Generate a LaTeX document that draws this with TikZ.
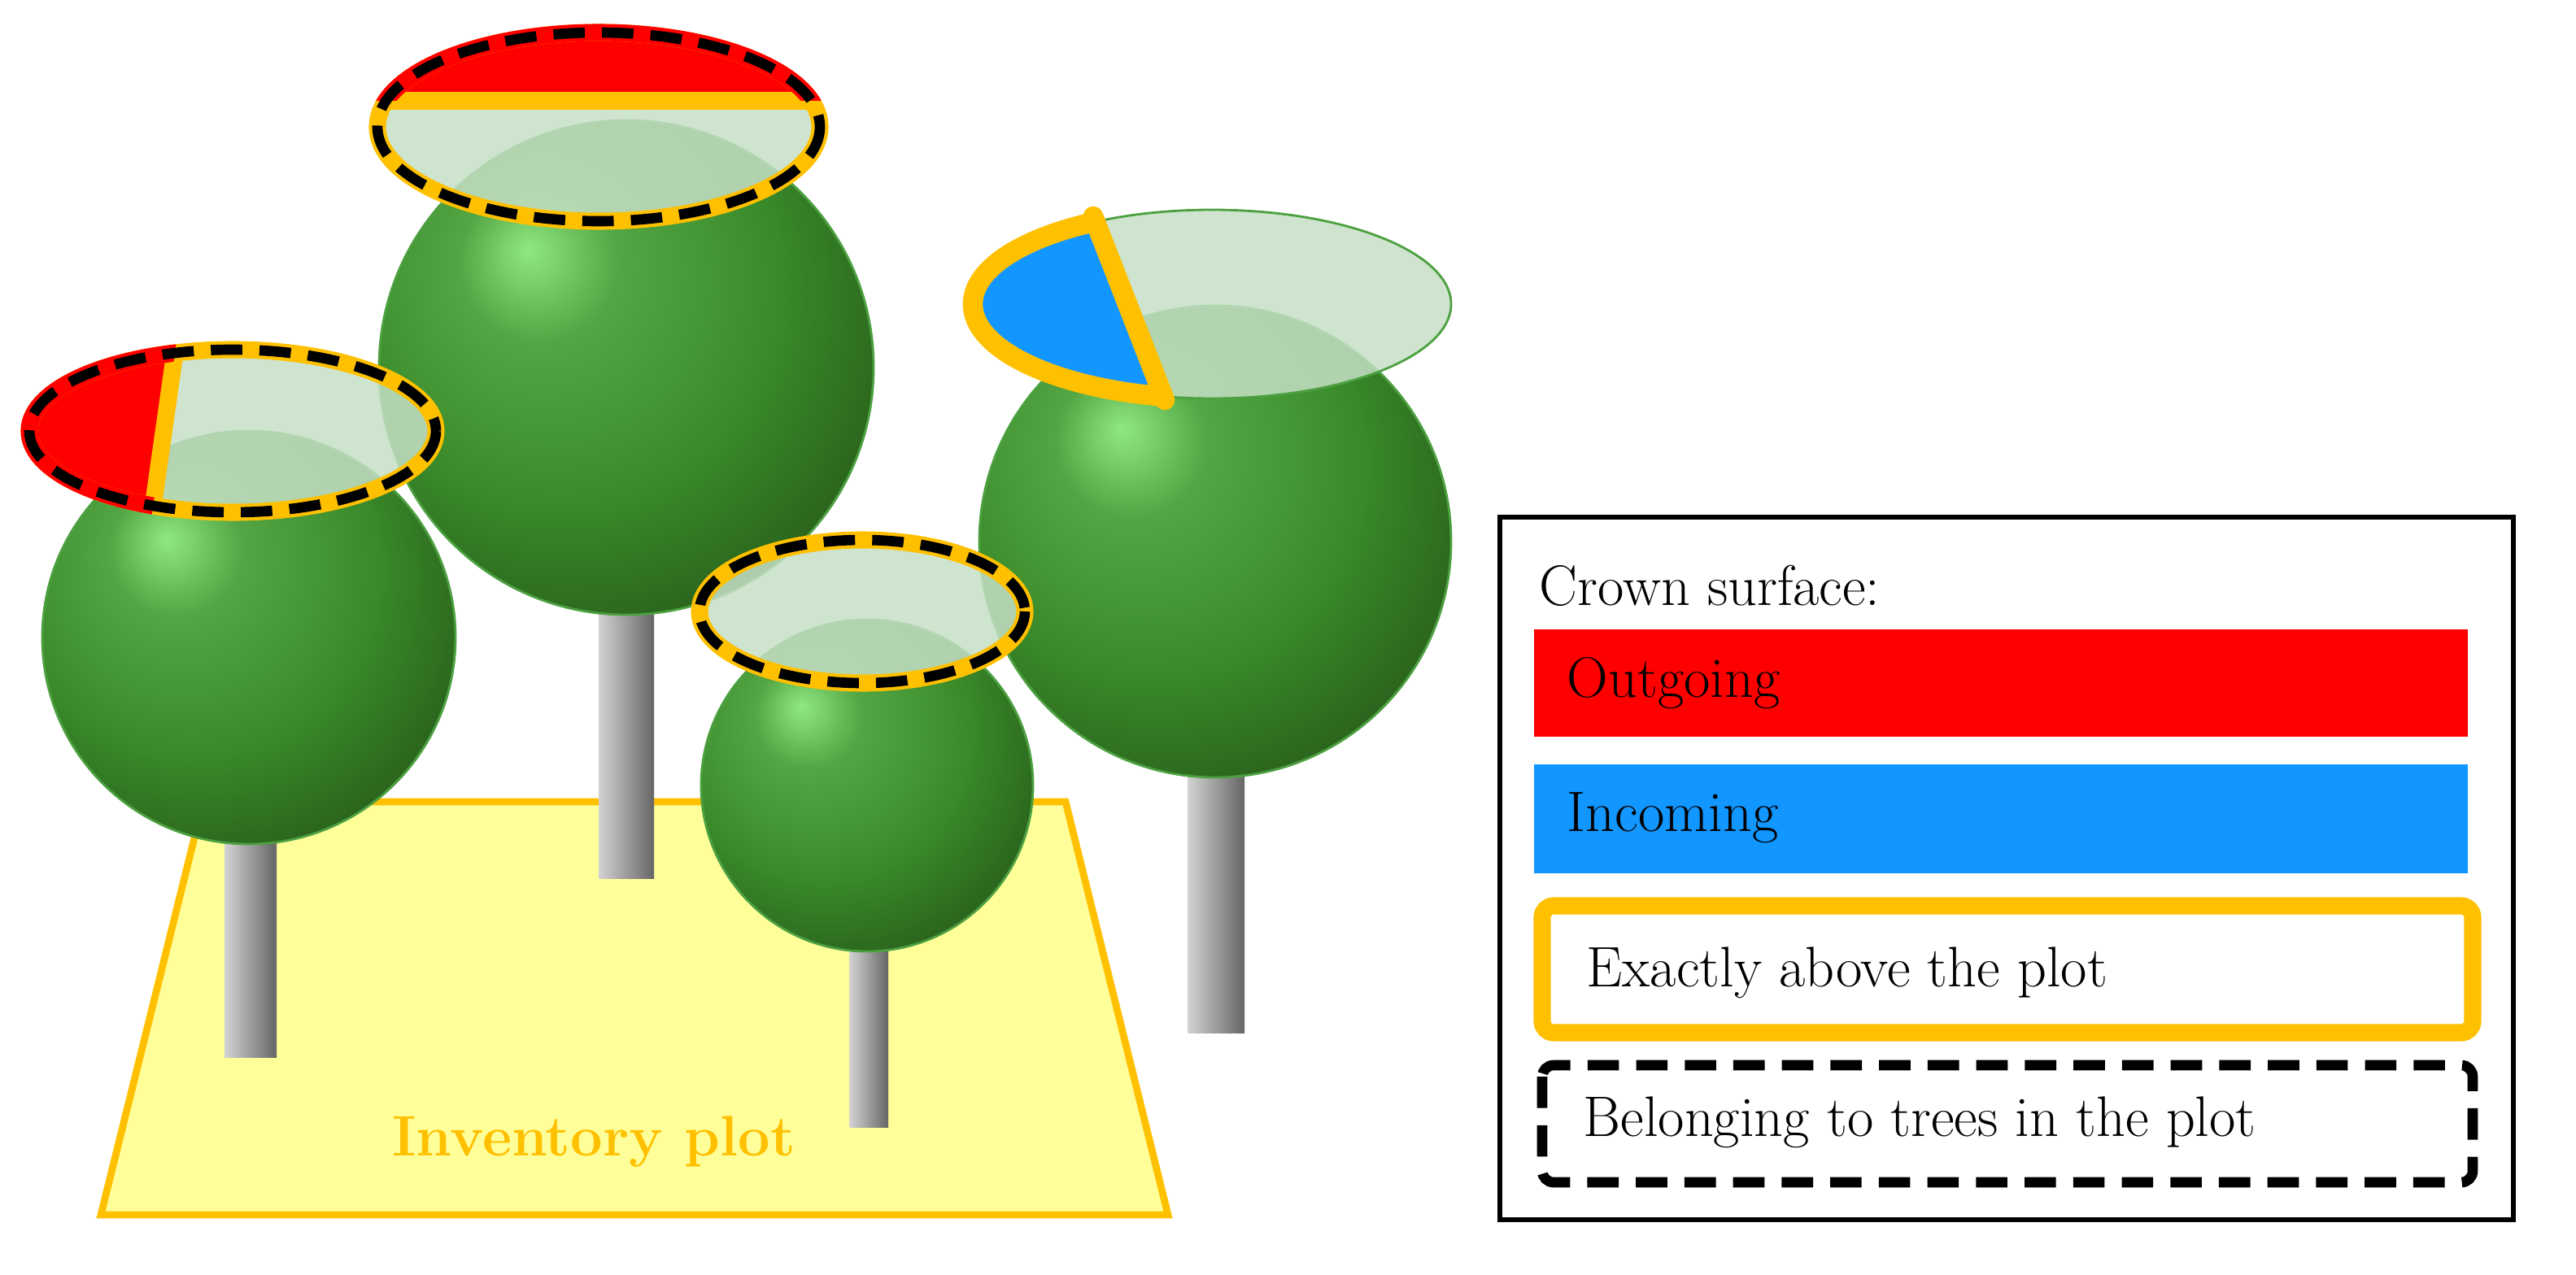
\documentclass[tikz,border=0pt]{standalone}
\usetikzlibrary{positioning}
\definecolor{plotorange}{HTML}{FFC000}
\definecolor{plotfill}{HTML}{FFFF99}
\definecolor{crownfill}{HTML}{C5DFC5}
\definecolor{inblue}{HTML}{1296FF}
\definecolor{outred}{HTML}{FF0000}
\definecolor{highgreen}{HTML}{90E880}
\definecolor{midgreen}{HTML}{3A8A2A}
\definecolor{darkgreen}{HTML}{1A4010}
\definecolor{rimgreen}{HTML}{4CA040}
\pgfdeclareradialshading{crownball}{\pgfpoint{-10bp}{12bp}}{color(0bp)=(highgreen); color(8bp)=(midgreen!70!highgreen); color(22bp)=(midgreen); color(40bp)=(darkgreen!80!midgreen); color(52bp)=(darkgreen); color(70bp)=(darkgreen)}
\tikzset{
  trunk/.style={left color=gray!35, middle color=white!90!gray, right color=gray!80!black, shading angle=90},
  crown/.style={shading=crownball, draw=rimgreen, line width=0.8pt},
  surface/.style={fill=crownfill, fill opacity=0.85},
  orangerim/.style={draw=plotorange, line width=6pt},
  dashrim/.style={draw=black, line width=3.6pt, dash pattern=on 11pt off 6pt},
  legendtext/.style={font=\fontsize{20}{23}\selectfont, anchor=west, inner sep=0pt}
}
\begin{document}
\begin{tikzpicture}[x=0.02cm, y=-0.02cm]
  \useasboundingbox (0,0) rectangle (1583.5,784);
  % inventory plot
  \draw[fill=plotfill, draw=plotorange, line width=2.5pt] (125,493) -- (655,493) -- (718,747) -- (62,747) -- cycle;
  \node[font=\fontsize{20}{23}\selectfont\bfseries, text=plotorange] (plotlabel) at (365,702) {Inventory plot};
  % trunks
  \shade[trunk] (138,480) rectangle (170,650) ;
  \shade[trunk] (138,650) arc[start angle=180, end angle=360, x radius=16, y radius=6];
  \shade[trunk] (368,330) rectangle (402,540);
  \shade[trunk] (368,540) arc[start angle=180, end angle=360, x radius=17, y radius=6];
  \shade[trunk] (522,560) rectangle (546,693);
  \shade[trunk] (522,693) arc[start angle=180, end angle=360, x radius=12, y radius=5];
  \shade[trunk] (730,440) rectangle (765,635);
  \shade[trunk] (730,635) arc[start angle=180, end angle=360, x radius=17.5, y radius=6];
  % crowns
  \shade[crown] (153,392) circle (127);
  \shade[crown] (385,226) circle (152);
  \shade[crown] (747,333) circle (145);
  \shade[crown] (533,483) circle (102);
  % crown surface of the left tree
  \begin{scope}
    \clip (143,265) ellipse [x radius=125, y radius=50];
    \fill[outred] (0,150) -- (117,150) -- (90,340) -- (0,340) -- cycle;
    \fill[surface] (117,150) -- (300,150) -- (300,340) -- (90,340) -- cycle;
    \draw[plotorange, line width=6pt] (117,150) -- (90,340);
  \end{scope}
  \draw[orangerim] (143,265) ellipse [x radius=125, y radius=50];
  \begin{scope}
    \clip (0,150) -- (117,150) -- (90,340) -- (0,340) -- cycle;
    \draw[outred, line width=6pt] (143,265) ellipse [x radius=125, y radius=50];
  \end{scope}
  \draw[dashrim] (143,265) ellipse [x radius=125, y radius=50];
  % crown surface of the top tree
  \begin{scope}
    \clip (368,78) ellipse [x radius=136, y radius=58];
    \fill[outred] (220,0) rectangle (520,62);
    \fill[surface] (220,62) rectangle (520,150);
    \draw[plotorange, line width=6pt] (220,62) -- (520,62);
  \end{scope}
  \draw[orangerim] (368,78) ellipse [x radius=136, y radius=58];
  \begin{scope}
    \clip (200,0) rectangle (540,62);
    \draw[outred, line width=6pt] (368,78) ellipse [x radius=136, y radius=58];
  \end{scope}
  \draw[dashrim] (368,78) ellipse [x radius=136, y radius=58];
  % crown surface of the small tree
  \fill[surface] (530,376) ellipse [x radius=100, y radius=44];
  \draw[orangerim] (530,376) ellipse [x radius=100, y radius=44];
  \draw[dashrim] (530,376) ellipse [x radius=100, y radius=44];
  % crown surface of the right tree
  \fill[surface] (745,187) ellipse [x radius=147, y radius=58];
  \draw[rimgreen, line width=0.8pt] (745,187) ellipse [x radius=147, y radius=58];
  \begin{scope}
    \clip (745,187) ellipse [x radius=147, y radius=58];
    \fill[inblue] (580,100) -- (665,100) -- (722,270) -- (580,270) -- cycle;
  \end{scope}
  \begin{scope}
    \clip (560,90) -- (662,90) -- (722,270) -- (560,270) -- cycle;
    \draw[plotorange, line width=7pt] (745,187) ellipse [x radius=147, y radius=58];
  \end{scope}
  \draw[plotorange, line width=7pt, line cap=round] (672,133) -- (716,246);
  % legend
  \draw[line width=1.5pt] (922,318) rectangle (1545,750);
  \node[legendtext] (crownsurface) at (946,360) {Crown surface:};
  \fill[outred] (943,387) rectangle (1517,453);
  \node[legendtext] (outgoing) at (963,420) {Outgoing};
  \fill[inblue] (943,470) rectangle (1517,537);
  \node[legendtext] (incoming) at (963,503) {Incoming};
  \draw[plotorange, line width=6pt, rounded corners=4pt] (948,557) rectangle (1520,635);
  \node[legendtext] (exactly) at (975,598) {Exactly above the plot};
  \draw[dashrim, rounded corners=4pt] (948,655) rectangle (1520,727);
  \node[legendtext] (belonging) at (973,690) {Belonging to trees in the plot};
\end{tikzpicture}
\end{document}
